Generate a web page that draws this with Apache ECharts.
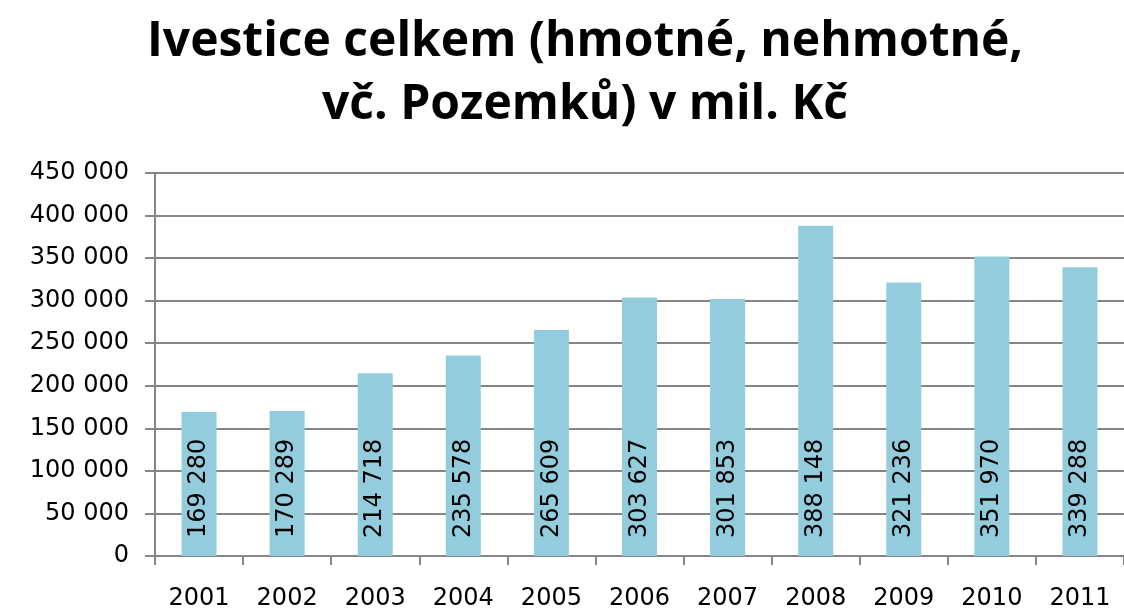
<!DOCTYPE html>
<html>
<head>
<meta charset="utf-8">
<script src="https://cdn.jsdelivr.net/npm/echarts@6/dist/echarts.min.js"></script>
<style>
  html, body { margin: 0; padding: 0; background: #fff; }
  #chart { width: 1124px; height: 608px; }
</style>
</head>
<body>
<div id="chart"></div>
<script>
// data
const years = ['2001', '2002', '2003', '2004', '2005', '2006', '2007', '2008', '2009', '2010', '2011'];
const investice = [169280, 170289, 214718, 235578, 265609, 303627, 301853, 388148, 321236, 351970, 339288];
const titleText = 'Ivestice celkem (hmotné, nehmotné,\nvč. Pozemků) v mil. Kč';

// mezera jako oddělovač tisíců
function fmt(v) {
    return String(v).replace(/\B(?=(\d{3})+(?!\d))/g, ' ');
}

const chart = echarts.init(document.getElementById('chart'));
chart.setOption({
    animation: false,
    title: {
        text: titleText,
        left: 580,
        top: 6,
        textAlign: 'center',
        textStyle: {
            fontFamily: 'Open Sans',
            fontWeight: 'bold',
            fontSize: 48,
            lineHeight: 63,
            color: '#000'
        }
    },
    grid: {
        left: 155,
        right: 0,
        top: 173,
        bottom: 52,
        outerBoundsMode: 'none'
    },
    xAxis: {
        type: 'category',
        data: years,
        axisLine: { lineStyle: { color: '#868686', width: 2 } },
        axisTick: { show: true, length: 9, lineStyle: { color: '#868686', width: 2 } },
        axisLabel: {
            fontFamily: 'DejaVu Sans',
            fontSize: 24,
            color: '#000',
            margin: 31
        }
    },
    yAxis: {
        type: 'value',
        min: 0,
        max: 450000,
        interval: 50000,
        axisLine: { show: true, lineStyle: { color: '#868686', width: 2 } },
        axisTick: { show: true, length: 10, lineStyle: { color: '#868686', width: 2 } },
        splitLine: { lineStyle: { color: '#858585', width: 2 } },
        axisLabel: {
            fontFamily: 'DejaVu Sans',
            fontSize: 24,
            color: '#000',
            margin: 26,
            formatter: fmt
        }
    },
    series: [{
        type: 'bar',
        data: investice,
        barWidth: 35,
        itemStyle: { color: '#93cddd' },
        label: {
            show: true,
            position: 'insideBottom',
            rotate: 90,
            align: 'left',
            verticalAlign: 'middle',
            distance: 18,
            fontFamily: 'DejaVu Sans',
            fontSize: 24,
            color: '#000',
            formatter: p => fmt(p.value)
        }
    }]
});
</script>
</body>
</html>
